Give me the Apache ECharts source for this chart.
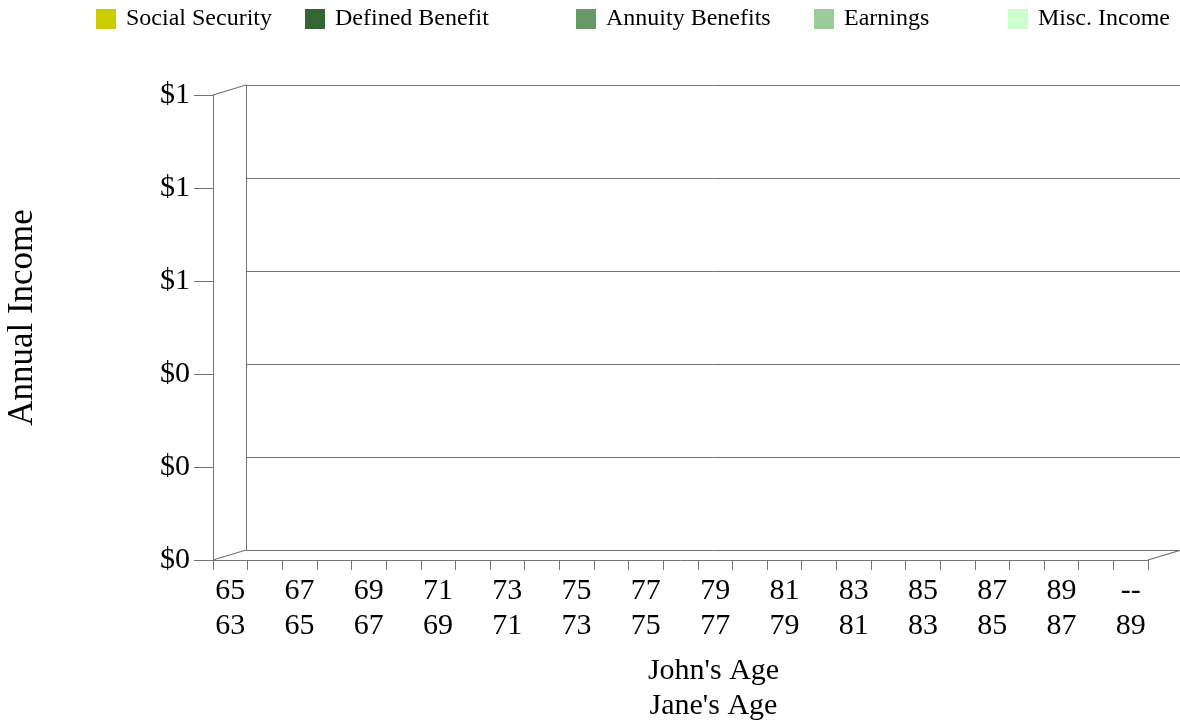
<!DOCTYPE html>
<html>
<head>
<meta charset="utf-8">
<title>Annual Income</title>
<script src="https://cdn.jsdelivr.net/npm/echarts@6/dist/echarts.min.js"></script>
<style>
    html, body { margin: 0; padding: 0; background: #fff; }
    #chart { width: 1180px; height: 721px; }
</style>
</head>
<body>
<div id="chart"></div>
<script>
// ages per year (John's age "--" once he is gone)
var johnAges = ['65', '66', '67', '68', '69', '70', '71', '72', '73', '74', '75', '76', '77', '78', '79',
    '80', '81', '82', '83', '84', '85', '86', '87', '88', '89', '90', '--'];
var janeAges = ['63', '64', '65', '66', '67', '68', '69', '70', '71', '72', '73', '74', '75', '76', '77',
    '78', '79', '80', '81', '82', '83', '84', '85', '86', '87', '88', '89'];

var seriesNames = ['Social Security', 'Defined Benefit', 'Annuity Benefits', 'Earnings', 'Misc. Income'];
var seriesColors = ['#cccc00', '#336633', '#669966', '#99cc99', '#ccffcc'];

// nothing is plotted in the picture: every year is empty
var socialSecurity = [0, 0, 0, 0, 0, 0, 0, 0, 0, 0, 0, 0, 0, 0, 0, 0, 0, 0, 0, 0, 0, 0, 0, 0, 0, 0, 0];
var definedBenefit = [0, 0, 0, 0, 0, 0, 0, 0, 0, 0, 0, 0, 0, 0, 0, 0, 0, 0, 0, 0, 0, 0, 0, 0, 0, 0, 0];
var annuityBenefits = [0, 0, 0, 0, 0, 0, 0, 0, 0, 0, 0, 0, 0, 0, 0, 0, 0, 0, 0, 0, 0, 0, 0, 0, 0, 0, 0];
var earnings = [0, 0, 0, 0, 0, 0, 0, 0, 0, 0, 0, 0, 0, 0, 0, 0, 0, 0, 0, 0, 0, 0, 0, 0, 0, 0, 0];
var miscIncome = [0, 0, 0, 0, 0, 0, 0, 0, 0, 0, 0, 0, 0, 0, 0, 0, 0, 0, 0, 0, 0, 0, 0, 0, 0, 0, 0];
var seriesData = [socialSecurity, definedBenefit, annuityBenefits, earnings, miscIncome];

var yMin = 0, yMax = 1, yStep = 0.2;

var categories = johnAges.map(function (a, i) { return a + '\n' + janeAges[i]; });

// layout: front plane + back wall shifted by depth
var W = 1180, H = 721;
var front = { left: 213, top: 95, right: 32, bottom: 161 };
var depth = { dx: 33, dy: 10 };
var back = { left: front.left + depth.dx, top: front.top - depth.dy, right: front.right - depth.dx, bottom: front.bottom + depth.dy };

var FONT = "'Liberation Serif', 'Times New Roman', serif";
var LINE = '#737373';

var myChart = echarts.init(document.getElementById('chart'));

// legends sit at fixed columns (minus the default 5px padding)
var legendLeft = [91, 300, 571, 809, 1003];
var legends = seriesNames.map(function (name, i) {
    return {
        data: [name],
        left: legendLeft[i],
        top: 2,
        itemWidth: 20,
        itemHeight: 20,
        icon: 'rect',
        selectedMode: false,
        textStyle: { fontFamily: FONT, fontSize: 24, color: '#000', padding: [0, 0, 0, 5] },
    };
});

var series = seriesNames.map(function (name, i) {
    return {
        name: name,
        type: 'bar',
        stack: 'income',
        xAxisIndex: 0,
        yAxisIndex: 0,
        itemStyle: { color: seriesColors[i] },
        data: seriesData[i],
    };
});

// depth edges of the box
function edge(x1, y1) {
    return {
        type: 'line',
        shape: { x1: x1, y1: y1, x2: x1 + depth.dx, y2: y1 - depth.dy },
        style: { stroke: LINE, lineWidth: 1.2 },
        silent: true,
    };
}

var option = {
    animation: false,
    legend: legends,
    grid: [
        { left: front.left, top: front.top, right: front.right, bottom: front.bottom, outerBoundsMode: 'none' },
        { left: back.left, top: back.top, right: back.right, bottom: back.bottom, outerBoundsMode: 'none' },
    ],
    xAxis: [
        {
            type: 'category',
            gridIndex: 0,
            data: categories,
            boundaryGap: true,
            axisLine: { show: true, lineStyle: { color: LINE, width: 1 } },
            axisTick: { show: true, interval: 0, length: 10, lineStyle: { color: LINE } },
            axisLabel: { interval: 1, fontFamily: FONT, fontSize: 30, color: '#000', lineHeight: 35, margin: 14 },
            splitLine: { show: false },
        },
        {
            type: 'category',
            gridIndex: 1,
            data: categories,
            axisLine: { show: false },
            axisTick: { show: false },
            axisLabel: { show: false },
            name: "John's Age\nJane's Age",
            nameLocation: 'middle',
            nameGap: 104,
            nameTextStyle: { fontFamily: FONT, fontSize: 30, color: '#000', lineHeight: 35 },
        },
    ],
    yAxis: [
        {
            type: 'value',
            gridIndex: 0,
            min: yMin,
            max: yMax,
            interval: yStep,
            axisLine: { show: true, lineStyle: { color: LINE, width: 1 } },
            axisTick: { show: true, length: 19, lineStyle: { color: LINE } },
            axisLabel: {
                fontFamily: FONT, fontSize: 30, color: '#000', margin: 23,
                formatter: function (v) { return '$' + Math.round(v); },
            },
            splitLine: { show: false },
        },
        {
            type: 'value',
            gridIndex: 1,
            min: yMin,
            max: yMax,
            interval: yStep,
            axisLine: { show: true, lineStyle: { color: LINE, width: 1 } },
            axisTick: { show: false },
            axisLabel: { show: false },
            splitLine: { show: true, lineStyle: { color: LINE, width: 1 } },
            name: 'Annual Income',
            nameLocation: 'middle',
            nameGap: 206,
            nameRotate: 90,
            nameTextStyle: { fontFamily: FONT, fontSize: 35, color: '#000' },
        },
    ],
    graphic: [
        edge(front.left, front.top),
        edge(front.left, H - front.bottom),
        edge(W - front.right, H - front.bottom),
    ],
    series: series,
};

myChart.setOption(option);
</script>
</body>
</html>
